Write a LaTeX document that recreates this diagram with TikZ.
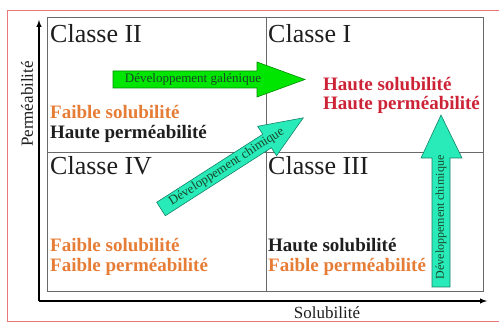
\documentclass[tikz,border=0pt]{standalone}
\usepackage{fontspec}
\setmainfont{Liberation Serif}
\definecolor{orangetxt}{RGB}{230,125,55}
\definecolor{rougetxt}{RGB}{205,35,55}
\definecolor{vertfl}{RGB}{0,230,0}
\definecolor{vertbord}{RGB}{0,140,0}
\definecolor{turq}{RGB}{40,235,185}
\definecolor{turqbord}{RGB}{20,130,105}
\definecolor{cadre}{RGB}{235,120,120}
\definecolor{grille}{RGB}{105,105,105}
\definecolor{texte}{RGB}{30,30,30}
\definecolor{textefl}{RGB}{25,70,40}

\begin{document}
\begin{tikzpicture}[x=1pt,y=1pt,
  classe/.style={anchor=base west,font=\fontsize{26}{28}\selectfont,text=texte},
  prop/.style={anchor=base west,font=\fontsize{19}{21}\selectfont\bfseries},
  axe/.style={font=\fontsize{17}{19}\selectfont,text=texte},
  fleche/.style={line width=0.6pt},
  legende/.style={font=\fontsize{13}{15}\selectfont,text=textefl}]
\tikzstyle{every node}+=[inner sep=0pt]
\useasboundingbox (0,0) rectangle (499,-323);
% cadre
\draw [cadre, line width=0.8pt] (499,-10) -- (7,-10) -- (7,-321.5) -- (499,-321.5);
% grille
\draw [grille, line width=0.8pt] (47,-17) rectangle (483,-291);
\draw [grille, line width=0.8pt] (266,-17) -- (266,-291);
\draw [grille, line width=0.8pt] (47,-152) -- (483,-152);
% axes
\coordinate (o) at (39,-301);
\coordinate (ymax) at (39,-20);
\coordinate (xmax) at (487,-301);
\draw [-latex, line width=1.4pt] (o) -- (ymax);
\draw [-latex, line width=1.4pt] (o) -- (xmax);
\node (perm) [axe, rotate=90] at (27,-104) {Perméabilité};
\node (solu) [axe] at (327,-313) {Solubilité};
% classes
\node (c2) [classe] at (50,-43) {Classe II};
\node (c1) [classe] at (268,-43) {Classe I};
\node (c4) [classe] at (50,-175) {Classe IV};
\node (c3) [classe] at (268,-175) {Classe III};
\node (c2a) [prop, text=orangetxt] at (50,-119) {Faible solubilité};
\node (c2b) [prop, text=texte] at (50,-139) {Haute perméabilité};
\node (c1a) [prop, text=rougetxt] at (323,-91) {Haute solubilité};
\node (c1b) [prop, text=rougetxt] at (323,-110) {Haute perméabilité};
\node (c4a) [prop, text=orangetxt] at (50,-252) {Faible solubilité};
\node (c4b) [prop, text=orangetxt] at (50,-272) {Faible perméabilité};
\node (c3a) [prop, text=texte] at (268,-252) {Haute solubilité};
\node (c3b) [prop, text=orangetxt] at (268,-272) {Faible perméabilité};
% developpement galenique
\draw [fill=vertfl, draw=vertbord, fleche] (113,-71) -- (257,-71) -- (257,-62) -- (305,-79.5)
  -- (257,-97) -- (257,-88) -- (113,-88) -- cycle;
\node (galen) [legende] at (193,-79.5) {Développement galénique};
% developpement chimique
\begin{scope}[shift={(161,-209)}, rotate=32.65]
\draw [fill=turq, draw=turqbord, fleche] (0,-8) -- (126,-8) -- (126,-17.5) -- (169,0)
  -- (126,17.5) -- (126,8) -- (0,8) -- cycle;
\node (chim1) [legende, rotate=32.65] at (78,0) {Développement chimique};
\end{scope}
\draw [fill=turq, draw=turqbord, fleche] (432,-287) -- (432,-158) -- (421,-158) -- (441,-115)
  -- (462,-158) -- (450,-158) -- (450,-287) -- cycle;
\node (chim2) [legende, rotate=90, font=\fontsize{12}{14}\selectfont] at (441,-217.5) {Développement chimique};
\end{tikzpicture}
\end{document}
